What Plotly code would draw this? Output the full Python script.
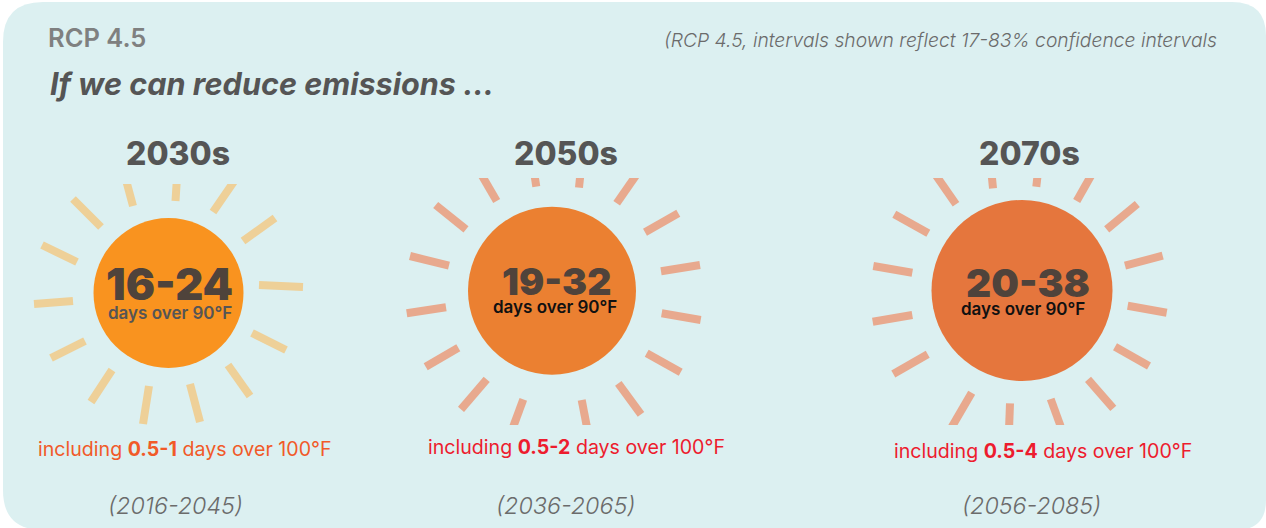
import plotly.graph_objects as go

decades = ["2030s", "2050s", "2070s"]
periods = ["(2016-2045)", "(2036-2065)", "(2056-2085)"]
days_90 = ["16-24", "19-32", "20-38"]
days_100 = ["0.5-1", "0.5-2", "0.5-4"]

sun_x = [168.5, 552, 1022]
sun_y = [293, 290.7, 290.5]
sun_d = [150, 168, 181]
sun_col = ["#F9931F", "#EB8031", "#E5763D"]
ray_col = ["#EED098", "#E8A98E", "#E8A98E"]
ink_90 = ["#555555", "#111111", "#111111"]
col_100 = ["#F15A29", "#ED1C2E", "#ED1C2E"]

rays_1 = [((126,180),(133,206)),((176.8,180),(175.5,201)),(( 235,180),(213,212)),((275,218),(243,241)),
          ((259,285),(303,287)),((252,333),(286,350)),((228,365),(250,396)),((190,384),(200,422)),
          ((149,386),(143,424)),((112,370),(91,402)),((85,341),(51,358)),((73,301),(34,304)),
          ((77,262),(42,245)),((101,227),(73,199))]
rays_2 = [((481,174),(496.7,201)),((534.5,175),(536.3,186.7)),((580.3,175),(579,187.7)),((637,174),(616.7,203.3)),
          ((678.3,213.3),(645,232.3)),((700,265),(661,271.3)),((700.7,320),(661.7,313.3)),((680.7,372.3),(646.7,353.3)),
          ((641,414.3),(618.3,383.3)),((587.5,430),(581.7,400)),((512,430),(523.3,399.3)),((486.7,379.3),(461,409.3)),
          ((458.3,347.7),(425.7,366.7)),((446,307.3),(406.7,313.3)),((449,265.7),(410,256)),((466,229.3),(435.7,205))]
rays_3 = [((935,174),(956,204.3)),((991.7,175),(993,188.3)),((1037.6,175),(1036.3,186.7)),((1092,174),(1076.7,201)),
          ((1137.3,204),(1106.7,229.3)),((1162.7,255.7),(1125,265.7)),((1166.7,312.7),(1127.7,305.7)),((1149,366),(1115,346.7)),
          ((1113.3,408.3),(1088,379.3)),((1062,430),(1050.7,399)),((1009,430),(1010,403.3)),((950,430),(971.7,392.7)),
          ((927.7,354.3),(893.3,374)),((912.3,315),(872.7,321.7)),((912.3,272.7),(873.3,266)),((928.3,233.3),(894.3,214.3))]
all_rays = [rays_1, rays_2, rays_3]

FONT = "Inter"
fig = go.Figure()

for rays, col in zip(all_rays, ray_col):
    xs, ys = [], []
    for a, b in rays:
        xs += [a[0], b[0], None]
        ys += [a[1], b[1], None]
    fig.add_trace(go.Scatter(x=xs, y=ys, mode="lines", line=dict(color=col, width=8),
                             hoverinfo="skip", showlegend=False))

fig.add_trace(go.Scatter(x=sun_x, y=sun_y, mode="markers",
                         marker=dict(size=sun_d, color=sun_col, line=dict(width=0), opacity=1),
                         hoverinfo="skip", showlegend=False))

panel = "#DCF0F1"
shapes = [
    dict(type="path", layer="below", fillcolor=panel, line=dict(width=0),
         path="M 3 42 Q 3 2 43 2 L 1232 2 Q 1266 2 1266 36 L 1266 500 Q 1266 530 1236 530 L 43 530 Q 3 530 3 490 Z"),
    dict(type="rect", layer="above", x0=3, x1=400, y0=168, y1=184, fillcolor=panel, line=dict(width=0)),
    dict(type="rect", layer="above", x0=400, x1=1266, y0=168, y1=178, fillcolor=panel, line=dict(width=0)),
    dict(type="rect", layer="above", x0=400, x1=1266, y0=425, y1=436, fillcolor=panel, line=dict(width=0)),
]

def note(x, y, text, size, color, weight="normal", style="normal", anchor="center"):
    return dict(x=x, y=y, xref="x", yref="y", text=text, showarrow=False, xanchor=anchor, yanchor="middle",
                font=dict(family=FONT, size=size, color=color, weight=weight, style=style))

ann = [
    note(46, 37, "RCP 4.5", 25.5, "#7F8080", 600, anchor="left"),
    note(47.5, 83, "If we can reduce emissions ...", 30.6, "#555555", 700, "italic", "left"),
    note(1219, 40, "(RCP 4.5, intervals shown reflect 17-83% confidence intervals", 19.3, "#6B6B6B", 300, "italic", "right"),
]
dec_x = [177.5, 566, 1029.5]
num_x = [169.5, 556, 1028]
num_y = [284, 281, 282]
num_s = [43.5, 37.5, 39]
num_c = ["#4F433B", "#4F433B", "#4F433B"]
day_x = [169.5, 554.5, 1022.5]
day_y = [313, 307, 309]
inc_x = [184.5, 576, 1042.5]
inc_y = [449, 447, 451]
per_x = [175, 565.5, 1031.5]

for i in range(3):
    ann.append(note(dec_x[i], 153, decades[i], 32, "#555555", 800))
    ann.append(note(num_x[i], num_y[i], days_90[i], num_s[i], num_c[i], 900))
    ann.append(note(day_x[i], day_y[i], "days over 90°F", 17, ink_90[i], 600))
    ann.append(note(inc_x[i], inc_y[i], f"including <b>{days_100[i]}</b> days over 100°F", 19.6, col_100[i], 400))
    ann.append(note(per_x[i], 505, periods[i], 23.3, "#6B6B6B", 300, "italic"))

fig.update_layout(
    width=1266, height=528, margin=dict(l=0, r=0, t=0, b=0),
    paper_bgcolor="white", plot_bgcolor="white",
    xaxis=dict(range=[0, 1266], visible=False, fixedrange=True),
    yaxis=dict(range=[528, 0], visible=False, fixedrange=True),
    shapes=shapes, annotations=ann, showlegend=False,
)
fig.write_html("out.html", config={"displayModeBar": False},
               post_script="document.body.style.margin='0';")
